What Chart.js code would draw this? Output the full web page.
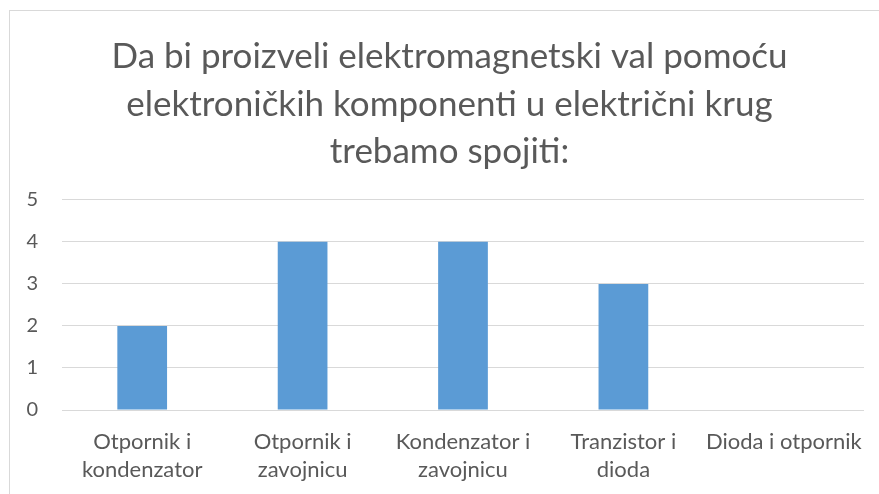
<!DOCTYPE html>
<html>
<head>
<meta charset="utf-8">
<script src="https://cdn.jsdelivr.net/npm/chart.js@4/dist/chart.umd.min.js"></script>
<style>
  html, body { margin: 0; padding: 0; background: #fff; overflow: hidden; }
  #frame { position: absolute; left: 9px; top: 10px; width: 900px; height: 520px; border: 1px solid #d9d9d9; box-sizing: border-box; }
  #wrap { position: absolute; left: 0; top: 0; width: 879px; height: 494px; }
</style>
</head>
<body>
<div id="frame"></div>
<div id="wrap"><canvas id="chart" width="879" height="494"></canvas></div>
<script>
const titleLines = ['Da bi proizveli elektromagnetski val pomoću', 'elektroničkih komponenti u električni krug', 'trebamo spojiti:'];
const categories = [['Otpornik i', 'kondenzator'], ['Otpornik i', 'zavojnicu'], ['Kondenzator i', 'zavojnicu'], ['Tranzistor i', 'dioda'], 'Dioda i otpornik'];
const values = [2, 4, 4, 3, 0];
const yTicks = [0, 1, 2, 3, 4, 5];

const textColor = '#595959';
const fontFamily = 'Lato, "Open Sans", sans-serif';

new Chart(document.getElementById('chart'), {
    type: 'bar',
    data: {
        labels: categories,
        datasets: [{
            data: values,
            backgroundColor: '#5B9BD5',
            barPercentage: 0.31,
            categoryPercentage: 1
        }]
    },
    options: {
        responsive: false,
        animation: false,
        layout: { padding: { left: 20, right: 0, top: 0, bottom: 0 } },
        plugins: {
            legend: { display: false },
            tooltip: { enabled: false },
            title: {
                display: true,
                text: titleLines,
                color: textColor,
                font: { family: fontFamily, size: 35, weight: 'normal', lineHeight: 1.36 },
                padding: { top: 33, bottom: 24 }
            }
        },
        scales: {
            y: {
                min: 0,
                max: 5,
                afterFit: s => { s.width = 42; },
                afterBuildTicks: s => { s.ticks = yTicks.map(v => ({ value: v })); },
                border: { display: false },
                grid: { color: '#d9d9d9', lineWidth: 1, drawTicks: false },
                ticks: { color: textColor, padding: 24, font: { family: fontFamily, size: 20 } }
            },
            right: {
                position: 'right',
                display: true,
                afterFit: s => { s.width = 15; },
                border: { display: false },
                grid: { display: false },
                ticks: { display: false }
            },
            x: {
                afterFit: s => { s.height = 84; },
                border: { display: false },
                grid: { display: false },
                ticks: {
                    color: textColor,
                    padding: 10,
                    maxRotation: 0,
                    autoSkip: false,
                    font: { family: fontFamily, size: 22, lineHeight: 1.27 }
                }
            }
        }
    }
});
</script>
</body>
</html>
